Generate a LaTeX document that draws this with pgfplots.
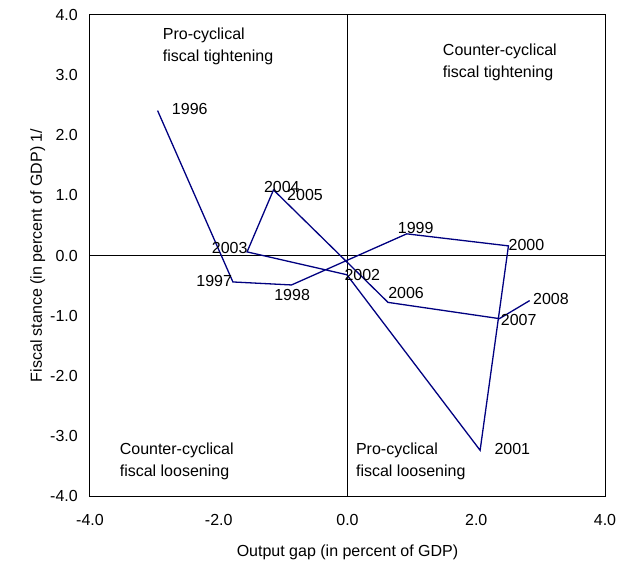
\documentclass[border=0pt]{standalone}
\usepackage{fontspec}
\setmainfont{Liberation Sans}
\usepackage{pgfplots}
\pgfplotsset{compat=1.18}

\definecolor{stance}{RGB}{0,0,128}

\begin{document}
\fontsize{16bp}{19bp}\selectfont
\begin{tikzpicture}
\begin{axis}[
    scale only axis,
    width=515bp, height=481bp,
    xmin=-4, xmax=4, ymin=-4, ymax=4,
    xtick={-4,-2,...,4},
    ytick={-4,-3,...,4},
    major tick length=0pt,
    axis line style={line width=1bp},
    /pgf/number format/fixed,
    /pgf/number format/fixed zerofill,
    /pgf/number format/precision=1,
    /pgf/number format/assume math mode=true,
    tick label style={font=\fontsize{16bp}{19bp}\selectfont, inner sep=0pt},
    xticklabel style={anchor=base, yshift=-29bp},
    yticklabel style={anchor=east, xshift=-12bp},
    xlabel={Output gap (in percent of GDP)},
    ylabel={Fiscal stance (in percent of GDP) 1/},
    label style={font=\fontsize{16bp}{19bp}\selectfont, inner sep=0pt},
    xlabel style={at={(axis description cs:0.5,0)}, anchor=base, yshift=-60bp},
    ylabel style={at={(axis description cs:0,0.5)}, anchor=base, yshift=48bp},
    clip=false,
]
% zero lines
\addplot[black, line width=1bp] coordinates {(0,-4) (0,4)};
\addplot[black, line width=1bp] coordinates {(-4,0) (4,0)};

% 1996 ... 2008
\addplot[stance, line width=1.3bp] table {
x y
-2.95  2.41
-1.78 -0.44
-0.87 -0.49
 0.92  0.36
 2.50  0.16
 2.06 -3.24
-0.01 -0.32
-1.56  0.06
-1.15  1.09
-1.13  1.07
 0.63 -0.78
 2.36 -1.05
 2.83 -0.75
};

\begin{scope}[every node/.style={inner sep=0pt, font=\fontsize{16bp}{19bp}\selectfont}]
\node at (axis cs:-2.45, 2.43) {1996};
\node at (axis cs:-2.07,-0.43) {1997};
\node at (axis cs:-0.86,-0.65) {1998};
\node at (axis cs: 1.06, 0.45) {1999};
\node at (axis cs: 2.78, 0.17) {2000};
\node at (axis cs: 2.56,-3.22) {2001};
\node at (axis cs: 0.23,-0.32) {2002};
\node at (axis cs:-1.83, 0.12) {2003};
\node at (axis cs:-1.02, 1.14) {2004};
\node at (axis cs:-0.66, 1.01) {2005};
\node at (axis cs: 0.91,-0.62) {2006};
\node at (axis cs: 2.66,-1.07) {2007};
\node at (axis cs: 3.16,-0.73) {2008};
\end{scope}

% quadrant notes (anchor at the baseline of the second line)
\begin{scope}[every node/.style={inner sep=0pt, anchor=base west, align=left,
    font=\fontsize{16bp}{22bp}\selectfont}]
\node at (axis cs:-2.87, 3.22) {Pro-cyclical\\fiscal tightening};
\node at (axis cs: 1.48, 2.96) {Counter-cyclical\\fiscal tightening};
\node at (axis cs:-3.54,-3.67) {Counter-cyclical\\fiscal loosening};
\node at (axis cs: 0.13,-3.67) {Pro-cyclical\\fiscal loosening};
\end{scope}

\path (rel axis cs:0,0) ++(-90bp,-67bp) coordinate (bbsw);
\path (rel axis cs:1,1) ++(19bp,15bp) coordinate (bbne);
\end{axis}
\path (bbsw) rectangle (bbne);
\end{tikzpicture}
\end{document}
